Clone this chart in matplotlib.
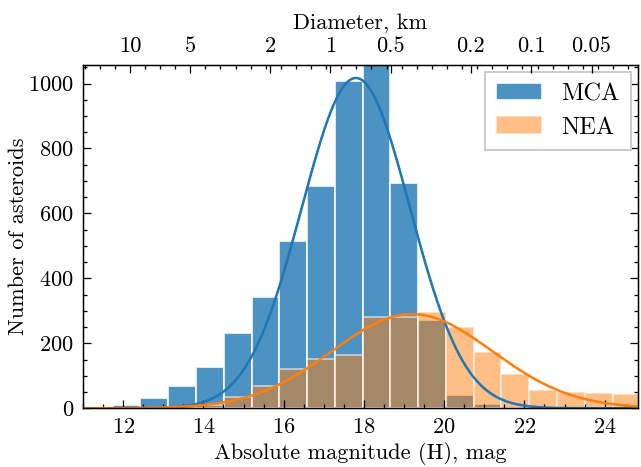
import numpy as np
import matplotlib
matplotlib.use("Agg")
import matplotlib.pyplot as plt
from matplotlib.ticker import AutoMinorLocator, MultipleLocator

# histogram bins (absolute magnitude H)
bin_start = 11.74
bin_width = 0.692
mca_counts = [10, 31, 69, 126, 233, 342, 515, 684, 1007, 1090, 693, 272, 41, 12, 2, 1, 0, 0, 0]
nea_counts = [0, 1, 3, 10, 36, 70, 120, 151, 163, 280, 281, 296, 251, 172, 105, 55, 50, 48, 44]

# gaussian fits (amplitude, mean, sigma)
mca_fit = (1017, 17.8, 1.35)
nea_fit = (290, 19.2, 2.0)

# diameter axis
albedo = 0.24
diam_ticks = [10, 5, 2, 1, 0.5, 0.2, 0.1, 0.05]
diam_labels = ["10", "5", "2", "1", "0.5", "0.2", "0.1", "0.05"]

plt.rcParams["font.family"] = ["cmr10", "DejaVu Serif"]
plt.rcParams["mathtext.fontset"] = "cm"
plt.rcParams["axes.formatter.use_mathtext"] = True
plt.rcParams["font.size"] = 8.8
plt.rcParams["axes.linewidth"] = 0.5
for a in ("xtick", "ytick"):
    plt.rcParams[a + ".direction"] = "in"
    plt.rcParams[a + ".major.size"] = 3
    plt.rcParams[a + ".minor.size"] = 1.5
    plt.rcParams[a + ".major.width"] = 0.5
    plt.rcParams[a + ".minor.width"] = 0.5

dpi = 183
fig = plt.figure(figsize=(641 / dpi, 467 / dpi), dpi=dpi)
ax = fig.add_axes([83 / 641, (467 - 408.3) / 467, 555 / 641, 343.3 / 467])

n = len(mca_counts)
left_edges = bin_start + bin_width * np.arange(n)
ax.bar(left_edges, mca_counts, width=bin_width, align="edge", color="C0",
       alpha=0.8, edgecolor="white", linewidth=0.8, label="MCA")
ax.bar(left_edges, nea_counts, width=bin_width, align="edge", color="C1",
       alpha=0.5, edgecolor="white", linewidth=0.8, label="NEA")

h = np.linspace(11, 25, 400)
amp, mu, sig = mca_fit
ax.plot(h, amp * np.exp(-(h - mu) ** 2 / (2 * sig ** 2)), color="C0", lw=1.0)
amp, mu, sig = nea_fit
ax.plot(h, amp * np.exp(-(h - mu) ** 2 / (2 * sig ** 2)), color="C1", lw=1.0)

ax.set_xlim(11.0, 24.83)
ax.set_ylim(0, 1057)
ax.xaxis.set_major_locator(MultipleLocator(2))
ax.xaxis.set_minor_locator(AutoMinorLocator())
ax.yaxis.set_major_locator(MultipleLocator(200))
ax.yaxis.set_minor_locator(AutoMinorLocator())
ax.tick_params(which="both", top=False, right=True)
ax.set_xlabel("Absolute magnitude (H), mag", labelpad=2.2)
ax.set_ylabel("Number of asteroids", labelpad=0)

leg = ax.legend(loc="upper right", fancybox=False, edgecolor="0.8",
                framealpha=1, borderpad=0.45, handlelength=1.9,
                borderaxespad=0.3, fontsize=9.6, labelspacing=0.45)
leg.get_frame().set_linewidth(0.8)

ax2 = ax.twiny()
ax2.set_xlim(ax.get_xlim())
h_ticks = [5 * np.log10(1329 / (np.sqrt(albedo) * d)) for d in diam_ticks]
ax2.set_xticks(h_ticks)
ax2.set_xticklabels(diam_labels)
ax2.xaxis.set_minor_locator(AutoMinorLocator())
ax2.tick_params(which="both", direction="in")
ax2.set_xlabel("Diameter, km", labelpad=3)

fig.savefig("out.png", dpi=dpi)
